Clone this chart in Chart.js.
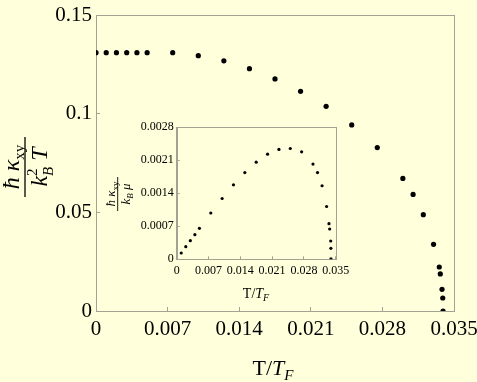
<!DOCTYPE html>
<html>
<head>
<meta charset="utf-8">
<script src="https://cdn.jsdelivr.net/npm/chart.js@4/dist/chart.umd.min.js"></script>
<style>
  html, body { margin:0; padding:0; background:#ffffdc; }
  #wrap { position:relative; width:477px; height:382px; }
  #main { position:absolute; left:0; top:0; }
  #inset { position:absolute; left:95px; top:115px; }
</style>
</head>
<body>
<div id="wrap">
  <canvas id="main" width="477" height="382"></canvas>
  <canvas id="inset" width="275" height="190"></canvas>
</div>
<script>
// ---- data ----
const mainT = [0, 0.001, 0.002, 0.003, 0.004, 0.005, 0.0075, 0.01, 0.0125, 0.015, 0.0175, 0.02, 0.0225, 0.025, 0.0275, 0.03, 0.031, 0.032, 0.033, 0.03356, 0.03366, 0.03383, 0.0339, 0.03393];
const mainKappa = [0.1309, 0.1309, 0.1309, 0.1309, 0.1309, 0.1309, 0.1309, 0.1294, 0.1268, 0.1228, 0.1176, 0.1113, 0.1037, 0.0943, 0.0828, 0.0672, 0.0591, 0.0488, 0.0338, 0.0223, 0.0188, 0.0110, 0.0066, 0.0];
const insetT = [0.001, 0.002, 0.003, 0.004, 0.005, 0.0075, 0.01, 0.0125, 0.015, 0.0175, 0.02, 0.0225, 0.025, 0.0275, 0.03, 0.031, 0.032, 0.033, 0.03352, 0.03367, 0.0339, 0.03394, 0.03396];
const insetKappa = [0.000134, 0.000268, 0.000395, 0.000522, 0.000657, 0.000982, 0.00129, 0.00158, 0.00184, 0.00206, 0.00223, 0.00233, 0.00235, 0.00228, 0.00202, 0.00184, 0.00156, 0.00112, 0.000755, 0.000643, 0.000388, 0.000233, 0.00001];
const mainXTicks = [0, 0.007, 0.014, 0.021, 0.028, 0.035];
const mainXTickLabels = ["0", "0.007", "0.014", "0.021", "0.028", "0.035"];
const mainYTicks = [0, 0.05, 0.1, 0.15];
const mainYTickLabels = ["0", "0.05", "0.1", "0.15"];
const insetXTicks = [0, 0.007, 0.014, 0.021, 0.028, 0.035];
const insetXTickLabels = ["0", "0.007", "0.014", "0.021", "0.028", "0.035"];
const insetYTicks = [0, 0.0007, 0.0014, 0.0021, 0.0028];
const insetYTickLabels = ["0", "0.0007", "0.0014", "0.0021", "0.0028"];

const FRAME = '#a3a393';
const SERIF = "'Liberation Serif', 'DejaVu Serif', serif";

function rich(ctx, segs, x, y, align) {
  let w = 0;
  const widths = segs.map(s => {
    ctx.font = (s.italic ? 'italic ' : '') + s.size + 'px ' + SERIF;
    return ctx.measureText(s.t).width;
  });
  segs.forEach((s, i) => { if (!s.overlay) w += widths[i]; });
  let cx = align === 'center' ? x - w / 2 : x;
  segs.forEach((s, i) => {
    ctx.font = (s.italic ? 'italic ' : '') + s.size + 'px ' + SERIF;
    ctx.fillText(s.t, cx, y + (s.dy || 0));
    if (!s.overlay) cx += widths[i];
  });
}

function makeConfig(opts) {
  return {
    type: 'scatter',
    data: { datasets: [{
      data: opts.xs.map((x, i) => ({ x: x, y: opts.ys[i] })),
      backgroundColor: '#000', borderColor: '#000',
      pointRadius: opts.r, pointHoverRadius: opts.r, borderWidth: 0
    }]},
    options: {
      responsive: false, animation: false, devicePixelRatio: 1,
      events: [],
      layout: { padding: opts.pad },
      plugins: { legend: { display: false }, tooltip: { enabled: false } },
      scales: {
        x: {
          type: 'linear', min: opts.xTicks[0], max: opts.xTicks[opts.xTicks.length - 1],
          afterBuildTicks: s => { s.ticks = opts.xTicks.map(v => ({ value: v })); },
          afterFit: s => { s.height = opts.xH; s.paddingLeft = 0; s.paddingRight = 0; },
          ticks: { callback: (v, i) => opts.xLabels[i], font: { family: SERIF, size: opts.fs }, color: '#000', padding: opts.xPad, maxRotation: 0, autoSkip: false },
          grid: { drawOnChartArea: false, drawTicks: true, tickLength: -opts.tl, color: FRAME, tickColor: FRAME },
          border: { display: true, color: FRAME }
        },
        y: {
          type: 'linear', min: opts.yTicks[0], max: opts.yTicks[opts.yTicks.length - 1],
          afterBuildTicks: s => { s.ticks = opts.yTicks.map(v => ({ value: v })); },
          afterFit: s => { s.width = opts.yW; s.paddingTop = 0; s.paddingBottom = 0; },
          ticks: { callback: (v, i) => opts.yLabels[i], font: { family: SERIF, size: opts.fs }, color: '#000', padding: opts.yPad, autoSkip: false },
          grid: { drawOnChartArea: false, drawTicks: true, tickLength: -opts.tl, color: FRAME, tickColor: FRAME },
          border: { display: true, color: FRAME }
        }
      }
    },
    plugins: [{
      id: 'frameAndLabels',
      beforeDatasetsDraw(chart) {
        const a = chart.chartArea, ctx = chart.ctx;
        ctx.save();
        ctx.strokeStyle = FRAME; ctx.lineWidth = 1;
        ctx.strokeRect(Math.round(a.left) + 0.5, Math.round(a.top) + 0.5, Math.round(a.right - a.left), Math.round(a.bottom - a.top));
        ctx.restore();
      },
      afterDraw(chart) { opts.labels(chart.ctx, chart); }
    }]
  };
}

new Chart(document.getElementById('main'), makeConfig({
  xs: mainT, ys: mainKappa, r: 2.6,
  xTicks: mainXTicks, xLabels: mainXTickLabels, yTicks: mainYTicks, yLabels: mainYTickLabels,
  pad: { left: 0, top: 15, right: 23, bottom: 0 },
  xH: 71, yW: 96, fs: 21, tl: 4, xPad: 10, yPad: 8,
  labels(ctx, chart) {
    ctx.save();
    ctx.fillStyle = '#000';
    ctx.textBaseline = 'alphabetic';
    rich(ctx, [
      { t: 'T/', size: 22 }, { t: 'T', size: 22, italic: true }, { t: 'F', size: 15, italic: true, dy: 5 }
    ], 273, 375, 'center');
    ctx.translate(25, 167);
    ctx.rotate(-Math.PI / 2);
    rich(ctx, [
      { t: 'ħ ', size: 24, italic: true }, { t: 'κ', size: 24, italic: true }, { t: 'xy', size: 15, dy: 5 }
    ], 0, -6, 'center');
    rich(ctx, [
      { t: 'k', size: 24, italic: true }, { t: '2', size: 15, dy: -10, overlay: true }, { t: 'B', size: 15, italic: true, dy: 6 }, { t: ' T', size: 24, italic: true }
    ], 0, 22, 'center');
    ctx.strokeStyle = '#000'; ctx.lineWidth = 1.3;
    ctx.beginPath(); ctx.moveTo(-30, 0); ctx.lineTo(30, 0); ctx.stroke();
    ctx.restore();
  }
}));

new Chart(document.getElementById('inset'), makeConfig({
  xs: insetT, ys: insetKappa, r: 1.6,
  xTicks: insetXTicks, xLabels: insetXTickLabels, yTicks: insetYTicks, yLabels: insetYTickLabels,
  pad: { left: 0, top: 12.3, right: 34.3, bottom: 0 },
  xH: 45.7, yW: 81.7, fs: 12, tl: 3, xPad: 7, yPad: 6,
  labels(ctx, chart) {
    ctx.save();
    ctx.fillStyle = '#000';
    ctx.textBaseline = 'alphabetic';
    rich(ctx, [
      { t: 'T/', size: 14 }, { t: 'T', size: 14, italic: true }, { t: 'F', size: 10, italic: true, dy: 3 }
    ], 161, 183, 'center');
    ctx.translate(22.7, 79);
    ctx.rotate(-Math.PI / 2);
    rich(ctx, [
      { t: 'ħ ', size: 13, italic: true }, { t: 'κ', size: 13, italic: true }, { t: 'xy', size: 9, dy: 3 }
    ], 0, -3, 'center');
    rich(ctx, [
      { t: 'k', size: 13, italic: true }, { t: 'B', size: 9, italic: true, dy: 3 }, { t: ' μ', size: 13, italic: true }
    ], 0, 12, 'center');
    ctx.strokeStyle = '#000'; ctx.lineWidth = 0.9;
    ctx.beginPath(); ctx.moveTo(-17, 0); ctx.lineTo(17, 0); ctx.stroke();
    ctx.restore();
  }
}));
</script>
</body>
</html>
